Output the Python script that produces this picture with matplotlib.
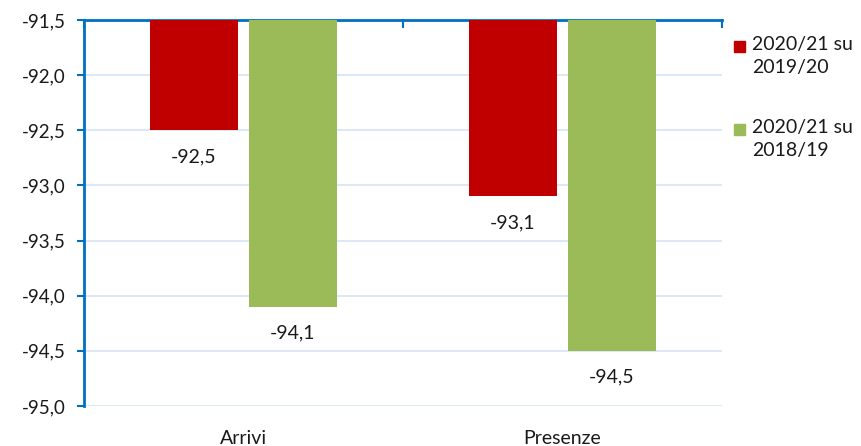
import matplotlib
matplotlib.use("Agg")
import matplotlib.pyplot as plt
from matplotlib.patches import Rectangle
import numpy as np

categories = ["Arrivi", "Presenze"]
series_names = ["2020/21 su\n2019/20", "2020/21 su\n2018/19"]
s1 = [-92.5, -93.1]
s2 = [-94.1, -94.5]
yticks = [-95.0, -94.5, -94.0, -93.5, -93.0, -92.5, -92.0, -91.5]

plt.rcParams['font.family'] = ['Lato', 'DejaVu Sans']
fig = plt.figure(figsize=(8.62, 4.46), dpi=100)
ax = fig.add_axes([84/862, 1-406/446, (722-84)/862, (406-20)/446])

base = -91.5
x = np.arange(len(categories))
w = 0.276
gap = 0.034
colors = ["#C00000", "#9BBB59"]
for i, (vals, c, name) in enumerate(zip([s1, s2], colors, series_names)):
    off = (-1 if i == 0 else 1) * (w/2 + gap/2)
    ax.bar(x + off, [v - base for v in vals], width=w, bottom=base, color=c, label=name, zorder=3)
    for xi, v in zip(x + off, vals):
        ax.annotate(f"{v:.1f}".replace(".", ","), (xi, v), xytext=(0, -19), textcoords="offset points",
                    ha="center", va="center", fontsize=14, color="#1a1a1a")

ax.set_xlim(-0.5, 1.5)
ax.set_ylim(-95, -91.5)
ax.set_yticks(yticks)
ax.set_yticklabels([f"{t:.1f}".replace(".", ",") for t in yticks], fontsize=13.5, color="#1a1a1a")
ax.yaxis.grid(True, color="#D6E4F5", linewidth=1.2, zorder=0)
ax.set_xticks(x)
ax.set_xticklabels(categories, fontsize=14, color="#1a1a1a")
ax.tick_params(axis="x", length=0, pad=17)
ax.tick_params(axis="y", length=5, color="#0070C0", width=1.5, pad=8)
for s in ["bottom", "right"]:
    ax.spines[s].set_visible(False)
for s in ["left", "top"]:
    ax.spines[s].set_color("#0070C0")
    ax.spines[s].set_linewidth(2)
# category boundary ticks on the top axis
for xb in [-0.5, 0.5, 1.5]:
    ax.plot([xb, xb], [-91.5, -91.5 - 0.06], color="#0070C0", lw=1.5, clip_on=False, zorder=4)

# legend (square aligned with first text line, as in the original)
W, H = 862, 446
for i, (name, c) in enumerate(zip(series_names, colors)):
    ytop = 41 + i * 83
    fig.patches.append(Rectangle((734/W, 1 - (ytop + 11)/H), 11/W, 11/H, color=c,
                                 transform=fig.transFigure, figure=fig))
    fig.text(752/W, 1 - (ytop - 5)/H, name, fontsize=14, color="#1a1a1a",
             ha="left", va="top", linespacing=1.45)

fig.savefig("out.png", dpi=100)
